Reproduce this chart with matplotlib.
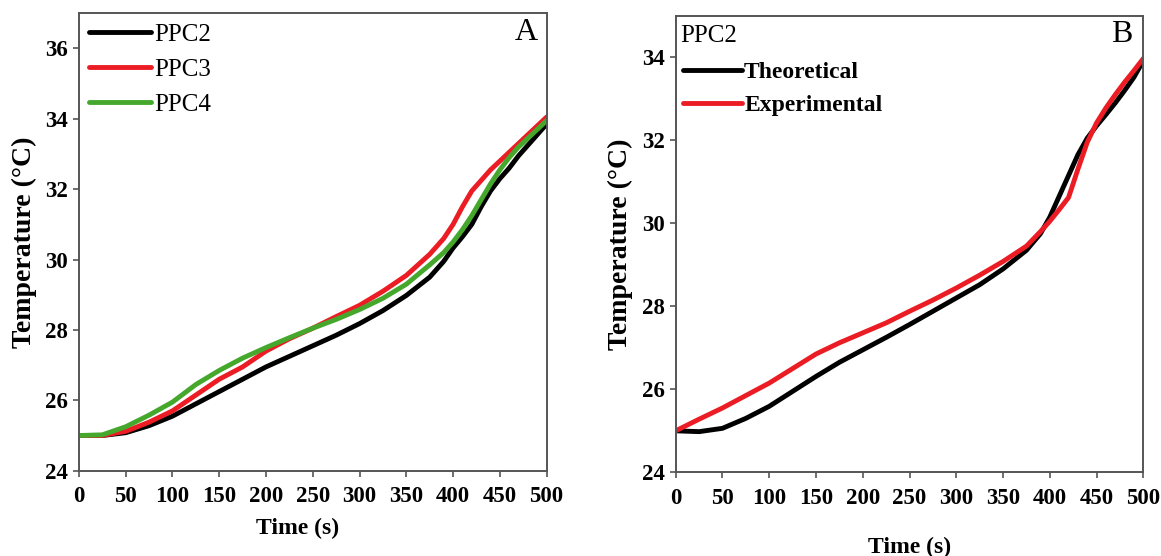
import matplotlib
matplotlib.use("Agg")
import matplotlib.pyplot as plt

plt.rcParams['font.family'] = ['Liberation Serif', 'DejaVu Serif']

# panel A: temperature rise for three samples
time_a = [0, 25, 50, 75, 100, 125, 150, 175, 200, 225, 250, 275, 300, 325, 350,
          375, 390, 400, 410, 420, 430, 440, 450, 460, 470, 480, 490, 500]
ppc2 = [25.0, 25.0, 25.08, 25.28, 25.55, 25.9, 26.25, 26.6, 26.95, 27.25, 27.55,
        27.85, 28.18, 28.55, 28.98, 29.5, 29.95, 30.33, 30.65, 31.0, 31.5, 31.95,
        32.3, 32.6, 32.95, 33.25, 33.55, 33.85]
ppc3 = [25.0, 25.0, 25.12, 25.38, 25.7, 26.15, 26.6, 26.95, 27.4, 27.75, 28.05,
        28.38, 28.7, 29.1, 29.55, 30.15, 30.6, 31.0, 31.5, 31.95, 32.25, 32.55,
        32.8, 33.05, 33.3, 33.55, 33.8, 34.05]
ppc4 = [25.0, 25.02, 25.25, 25.58, 25.95, 26.45, 26.85, 27.2, 27.5, 27.78, 28.05,
        28.3, 28.58, 28.9, 29.3, 29.85, 30.2, 30.5, 30.85, 31.25, 31.7, 32.15,
        32.55, 32.9, 33.2, 33.45, 33.7, 33.95]

# panel B: PPC2 theory vs experiment
time_b = [0, 25, 50, 75, 100, 125, 150, 175, 200, 225, 250, 275, 300, 325, 350,
          375, 390, 400, 410, 420, 430, 440, 450, 460, 470, 480, 490, 500]
theoretical = [25.0, 24.98, 25.06, 25.3, 25.59, 25.95, 26.31, 26.65, 26.95, 27.25,
               27.56, 27.88, 28.2, 28.52, 28.9, 29.35, 29.75, 30.15, 30.65, 31.15,
               31.65, 32.05, 32.35, 32.62, 32.9, 33.2, 33.52, 33.92]
experimental = [25.0, 25.28, 25.55, 25.85, 26.15, 26.5, 26.85, 27.12, 27.36, 27.6,
                27.88, 28.15, 28.44, 28.75, 29.08, 29.45, 29.8, 30.05, 30.33, 30.62,
                31.3, 31.95, 32.42, 32.78, 33.1, 33.4, 33.68, 33.97]

xticks = [0, 50, 100, 150, 200, 250, 300, 350, 400, 450, 500]

BLACK = '#000000'
RED = '#ec1c24'
GREEN = '#45a82c'
LW = 3.5


def style_axes(ax, ylim, yticks, xlabelpad):
    ax.set_xlim(0, 500)
    ax.set_ylim(*ylim)
    ax.set_xticks(xticks)
    ax.set_yticks(yticks)
    for s in ax.spines.values():
        s.set_color('#555555')
        s.set_linewidth(1.4)
    ax.tick_params(axis='both', direction='out', length=4, width=1.2,
                   color='#555555', labelsize=16.5)
    ax.tick_params(axis='x', pad=7)
    ax.tick_params(axis='y', pad=4)
    for lab in ax.get_xticklabels() + ax.get_yticklabels():
        lab.set_fontweight('bold')
    ax.set_xlabel('Time (s)', fontsize=17, fontweight='bold', labelpad=xlabelpad)
    ax.set_ylabel('Temperature (°C)', fontsize=20, fontweight='bold', labelpad=6)


def draw(ax, x, y, color, label):
    ax.plot(x, y, color=color, lw=LW, label=label,
            solid_capstyle='round', solid_joinstyle='round')


fig = plt.figure(figsize=(11.61, 5.56), dpi=100)

axA = fig.add_axes([0.0680, 0.1534, 0.4028, 0.8227])
draw(axA, time_a, ppc2, BLACK, 'PPC2')
draw(axA, time_a, ppc3, RED, 'PPC3')
draw(axA, time_a, ppc4, GREEN, 'PPC4')
style_axes(axA, (24, 37), [24, 26, 28, 30, 32, 34, 36], 8)
axA.xaxis.label.set_x(0.467)
axA.legend(loc='upper left', bbox_to_anchor=(0, 1), borderaxespad=0,
           borderpad=0.4, frameon=False, handlelength=2.5, handletextpad=0.1,
           labelspacing=0.5, prop={'size': 18})
axA.text(0.981, 0.958, 'A', transform=axA.transAxes, ha='right', va='center',
         fontsize=23)

axB = fig.add_axes([0.5820, 0.1505, 0.4028, 0.8212])
draw(axB, time_b, theoretical, BLACK, 'Theoretical')
draw(axB, time_b, experimental, RED, 'Experimental')
style_axes(axB, (24, 35), [24, 26, 28, 30, 32, 34], 20)
axB.text(0.009, 0.955, 'PPC2', transform=axB.transAxes, ha='left', va='center',
         fontsize=18)
axB.legend(loc='upper left', bbox_to_anchor=(0, 0.915), borderaxespad=0,
           borderpad=0.3, frameon=False, handlelength=2.5, handletextpad=0.1,
           labelspacing=0.5, prop={'size': 17, 'weight': 'bold'})
axB.text(0.976, 0.958, 'B', transform=axB.transAxes, ha='right', va='center',
         fontsize=23)

fig.savefig('out.png', dpi=100)
